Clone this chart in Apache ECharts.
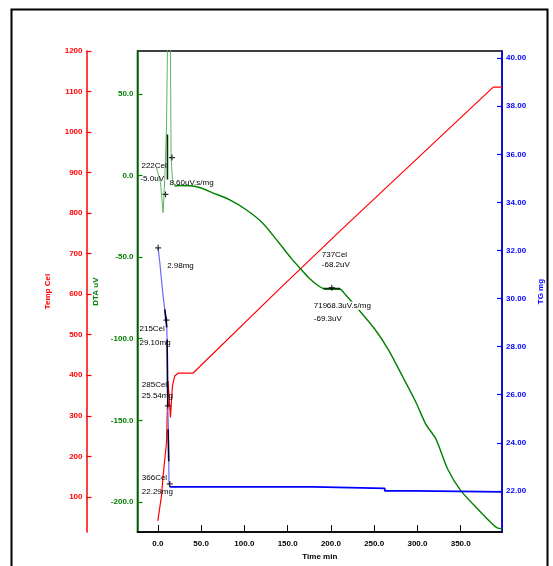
<!DOCTYPE html>
<html>
<head>
<meta charset="utf-8">
<script src="https://cdn.jsdelivr.net/npm/echarts@6/dist/echarts.min.js"></script>
<style>
  html, body { margin: 0; padding: 0; background: #fff; }
  #chart { width: 553px; height: 566px; }
</style>
</head>
<body>
<div id="chart"></div>
<script>
// Simultaneous thermal analysis run: furnace temperature, DTA signal and TG mass vs time.

const timeTicks = [0, 50, 100, 150, 200, 250, 300, 350];
const tempTicks = [100, 200, 300, 400, 500, 600, 700, 800, 900, 1000, 1100, 1200];
const dtaTicks = [50, 0, -50, -100, -150, -200];
const tgTicks = [22, 24, 26, 28, 30, 32, 34, 36, 38, 40];

// [time min, temperature Cel]
const temperature = [
  [0, 40.8], [4.2, 102.5], [6.1, 151.8], [10.0, 234], [11.8, 386], [14.6, 296],
  [16.9, 374], [19.5, 398], [23.3, 405], [40.5, 405], [140, 612], [212.5, 760],
  [387.6, 1111], [398, 1111]
];

// [time min, DTA uV] - ignition spike at the start of the run
const dtaSpike = [
  [-1.5, 4.7], [3.1, -4.5], [6.1, -22.8], [8.0, -2.4], [10.0, 29.2], [11.1, 77],
  [12.0, 320], [14.6, 77], [15.3, 10.8], [16.9, -2.4], [19.5, -6.5]
];

// [time min, DTA uV] - remainder of the run
const dta = [
  [19.5, -6.5], [25.2, -6.1], [46.2, -7.0], [63.4, -10.6], [82.6, -14.7], [101.7, -20.8],
  [120.8, -28.9], [139.9, -41.2], [155.2, -51.4], [164.8, -57.1], [174.3, -62.6],
  [185.8, -67.7], [193.5, -69.5], [210.7, -69.7], [216.4, -72.8], [231.7, -82.0],
  [250.8, -94.2], [266, -106.4], [283.3, -123.6], [298.2, -138.9], [309.6, -152.3],
  [321.4, -161.5], [334.9, -179.8], [350.1, -193.1], [369.3, -204.2], [388.4, -214.5],
  [392.2, -215.9], [398, -216.5]
];

// [time min, mass mg] - mass loss steps
const tgDrop = [
  [0.34, 32.11], [2.3, 31.49], [4.2, 30.79], [6.1, 30.10], [8.0, 29.55], [10.0, 29.13],
  [10.7, 28.30], [11.1, 27.33], [11.1, 26.36], [11.5, 25.53], [12.3, 24.43],
  [12.6, 23.18], [13.0, 22.28], [13.8, 22.17]
];

// [time min, mass mg] - residue
const tg = [
  [13.8, 22.17], [180, 22.17], [180, 22.10], [262.3, 22.10], [262.3, 22.00],
  [296.7, 22.00], [296.7, 21.96], [398, 21.96]
];

// evaluated points on the TG curve
const tgMarks = [[0.34, 32.11], [10.0, 29.10], [11.5, 25.54], [13.8, 22.29]];
// evaluated points on the DTA curve
const dtaMarks = [[8.8, -11.6], [16.4, 11.0], [201, -68.7]];
// step-evaluation bars
const tgBars = [
  [[8.0, 29.55], [10.3, 28.8]],
  [[10.7, 28.3], [11.5, 25.53]],
  [[11.8, 24.56], [12.6, 23.23]]
];
const dtaBars = [
  [[11.1, 25.1], [11.1, -2.4]],
  [[191.5, -69.3], [210.7, -69.3]]
];

// result texts, each tied to an evaluated point
const notes = [
  { axis: 2, at: [0.34, 32.11], lines: [['2.98mg', 9, 18]] },
  { axis: 2, at: [10.0, 29.10], lines: [['215Cel', -27, 9], ['29.10mg', -27, 23]] },
  { axis: 2, at: [11.5, 25.54], lines: [['285Cel', -26, -21], ['25.54mg', -26, -10]] },
  { axis: 2, at: [13.8, 22.29], lines: [['366Cel', -28, -6], ['22.29mg', -28, 8]] },
  { axis: 1, at: [8.8, -11.6], lines: [['222Cel', -24, -29], ['-5.0uV', -25, -16], ['8.60uV.s/mg', 4, -12]] },
  { axis: 1, at: [201, -68.7], lines: [['737Cel', -10, -33], ['-68.2uV', -10, -23],
                                       ['719Cel', -18, 18], ['68.3uV.s/mg', -5, 18], ['-69.3uV', -18, 31]] }
];

const RED = '#ff0000', GREEN = '#008000', BLUE = '#0000ff';
const FONT = '"Liberation Sans", Arial, sans-serif';

function yAxisDef(name, color, min, max, ticks, digits, position, offset, gap) {
  return {
    type: 'value', name: name, position: position, offset: offset,
    min: min, max: max,
    nameLocation: 'middle', nameRotate: 90, nameGap: gap,
    nameTextStyle: { color: color, fontSize: 8, fontWeight: 'bold', fontFamily: FONT },
    axisLine: { show: true, onZero: false, lineStyle: { color: color, width: 1.5 } },
    axisTick: { show: true, inside: true, length: 5, customValues: ticks, lineStyle: { color: color, width: 1.2 } },
    axisLabel: { color: color, fontSize: 8, fontWeight: 'bold', fontFamily: FONT, margin: 4, customValues: ticks,
                 formatter: v => v.toFixed(digits) },
    splitLine: { show: false }
  };
}

const chart = echarts.init(document.getElementById('chart'), null, { renderer: 'canvas' });

const barSeries = [];
tgBars.forEach(seg => barSeries.push({
  type: 'line', yAxisIndex: 2, data: seg, symbol: 'none', silent: true, z: 5,
  lineStyle: { color: '#000033', width: 1.6 }
}));
dtaBars.forEach(seg => barSeries.push({
  type: 'line', yAxisIndex: 1, data: seg, symbol: 'none', silent: true, z: 5,
  lineStyle: { color: '#003300', width: 1.6 }
}));

const plus = 'path://M4,0H6V4H10V6H6V10H4V6H0V4H4Z';

chart.setOption({
  animation: false,
  backgroundColor: '#fff',
  grid: { left: 137.5, right: 48, top: 51, bottom: 33, show: true, borderColor: '#000', borderWidth: 1.5 },
  xAxis: {
    type: 'value', min: -23.5, max: 397.8,
    name: 'Time min', nameLocation: 'middle', nameGap: 19,
    nameTextStyle: { color: '#000', fontSize: 8, fontWeight: 'bold', fontFamily: FONT },
    axisLine: { show: true, onZero: false, lineStyle: { color: '#000', width: 1.5 } },
    axisTick: { show: true, inside: true, length: 7, customValues: timeTicks, lineStyle: { color: '#000' } },
    axisLabel: { color: '#000', fontSize: 8, fontWeight: 'bold', fontFamily: FONT, margin: 8, customValues: timeTicks,
                 formatter: v => v.toFixed(1) },
    splitLine: { show: false }
  },
  yAxis: [
    yAxisDef('Temp Cel', RED, 13, 1200, tempTicks, 0, 'left', 51, 35),
    yAxisDef('DTA uV', GREEN, -218.5, 76.3, dtaTicks, 1, 'left', 0, 35),
    yAxisDef('TG mg', BLUE, 20.285, 40.30, tgTicks, 2, 'right', 0, 34)
  ],
  series: [
    { name: 'Temp', type: 'line', yAxisIndex: 0, data: temperature, symbol: 'none', z: 3,
      lineStyle: { color: RED, width: 1.2 } },
    { name: 'DTA spike', type: 'line', yAxisIndex: 1, data: dtaSpike, symbol: 'none', z: 3,
      lineStyle: { color: '#5fb35f', width: 1 } },
    { name: 'DTA', type: 'line', yAxisIndex: 1, data: dta, symbol: 'none', z: 3, smooth: 0.25,
      lineStyle: { color: GREEN, width: 1.4 } },
    { name: 'TG drop', type: 'line', yAxisIndex: 2, data: tgDrop, symbol: 'none', z: 3,
      lineStyle: { color: '#6a6aff', width: 1.2 } },
    { name: 'TG', type: 'line', yAxisIndex: 2, data: tg, symbol: 'none', z: 3,
      lineStyle: { color: BLUE, width: 1.8 } },
    ...barSeries,
    { type: 'scatter', yAxisIndex: 2, data: tgMarks, symbol: plus, symbolSize: 6, z: 6,
      itemStyle: { color: '#000' }, silent: true },
    { type: 'scatter', yAxisIndex: 1, data: dtaMarks, symbol: plus, symbolSize: 6, z: 6,
      itemStyle: { color: '#000' }, silent: true }
  ]
});

// outer frame plus the result texts next to the evaluated points
const graphics = [{
  id: 'frame', type: 'rect', z: -1, silent: true,
  shape: { x: 11.5, y: 9.5, width: 536, height: 620 },
  style: { fill: 'none', stroke: '#000', lineWidth: 2 }
}];
notes.forEach((n, i) => {
  const p = chart.convertToPixel({ xAxisIndex: 0, yAxisIndex: n.axis }, n.at);
  n.lines.forEach(([txt, dx, dy], j) => graphics.push({
    id: 'note' + i + '_' + j, type: 'text', z: 10, silent: true, x: p[0] + dx, y: p[1] + dy,
    style: { text: txt, fill: '#000', fontSize: 8, fontFamily: FONT,
             align: 'left', verticalAlign: 'middle',
             backgroundColor: (i === 5 && j === 3) ? '#fff' : 'transparent' }
  }));
});
chart.setOption({ graphic: graphics });
</script>
</body>
</html>
